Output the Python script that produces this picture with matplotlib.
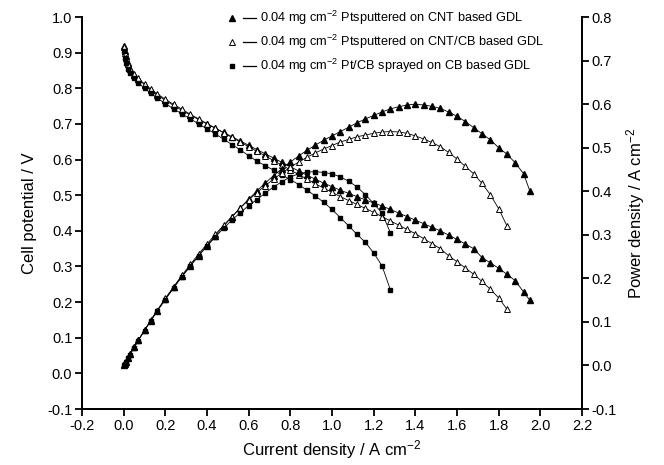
import numpy as np
import matplotlib
matplotlib.use("Agg")
import matplotlib.pyplot as plt
from matplotlib.lines import Line2D
from matplotlib.legend_handler import HandlerTuple

plt.rcParams['font.family'] = ['Liberation Sans', 'DejaVu Sans']
plt.rcParams['mathtext.fontset'] = 'custom'
plt.rcParams['mathtext.rm'] = 'Liberation Sans'
plt.rcParams['mathtext.default'] = 'regular'

# current density, A cm-2
i_cnt = [0.0, 0.005, 0.01, 0.02, 0.03, 0.05, 0.07, 0.10, 0.13, 0.16, 0.20, 0.24, 0.28, 0.32,
         0.36, 0.40, 0.44, 0.48, 0.52, 0.56, 0.60, 0.64, 0.68, 0.72, 0.76, 0.80, 0.84, 0.88,
         0.92, 0.96, 1.00, 1.04, 1.08, 1.12, 1.16, 1.20, 1.24, 1.28, 1.32, 1.36, 1.40, 1.44,
         1.48, 1.52, 1.56, 1.60, 1.64, 1.68, 1.72, 1.76, 1.80, 1.84, 1.88, 1.92, 1.95]
v_cnt = [0.92, 0.905, 0.89, 0.87, 0.855, 0.838, 0.826, 0.81, 0.795, 0.782, 0.766, 0.752, 0.738,
         0.725, 0.712, 0.70, 0.688, 0.676, 0.664, 0.652, 0.64, 0.628, 0.616, 0.604, 0.592, 0.58,
         0.568, 0.556, 0.545, 0.534, 0.524, 0.514, 0.505, 0.496, 0.487, 0.478, 0.47, 0.46, 0.45,
         0.44, 0.43, 0.42, 0.41, 0.40, 0.388, 0.376, 0.363, 0.35, 0.325, 0.31, 0.295, 0.278,
         0.26, 0.228, 0.205]
p_cnt = [0.0, 0.005, 0.009, 0.017, 0.026, 0.042, 0.058, 0.081, 0.103, 0.125, 0.153, 0.179, 0.205,
         0.229, 0.252, 0.275, 0.298, 0.32, 0.341, 0.362, 0.382, 0.401, 0.419, 0.436, 0.452, 0.467,
         0.481, 0.494, 0.506, 0.517, 0.527, 0.537, 0.547, 0.557, 0.566, 0.574, 0.582, 0.589,
         0.594, 0.598, 0.6, 0.598, 0.595, 0.59, 0.582, 0.572, 0.56, 0.546, 0.532, 0.518, 0.50,
         0.485, 0.465, 0.44, 0.40]

i_cb = i_cnt[:52]
v_cb = [0.915, 0.9, 0.885, 0.868, 0.855, 0.84, 0.828, 0.812, 0.798, 0.785, 0.769, 0.755, 0.741,
        0.727, 0.714, 0.701, 0.688, 0.675, 0.662, 0.649, 0.636, 0.623, 0.61, 0.597, 0.584, 0.571,
        0.558, 0.545, 0.532, 0.52, 0.508, 0.496, 0.485, 0.474, 0.463, 0.452, 0.44, 0.428, 0.416,
        0.404, 0.392, 0.378, 0.364, 0.35, 0.33, 0.313, 0.296, 0.278, 0.258, 0.236, 0.212, 0.18]
p_cb = [0.0, 0.004, 0.009, 0.017, 0.026, 0.042, 0.058, 0.081, 0.104, 0.126, 0.154, 0.181, 0.207,
        0.232, 0.256, 0.279, 0.301, 0.322, 0.342, 0.362, 0.38, 0.397, 0.413, 0.428, 0.442, 0.455,
        0.467, 0.478, 0.488, 0.497, 0.505, 0.513, 0.519, 0.525, 0.529, 0.533, 0.536, 0.537,
        0.536, 0.533, 0.527, 0.52, 0.512, 0.502, 0.489, 0.474, 0.457, 0.44, 0.418, 0.392, 0.36,
        0.32]

i_sp = i_cnt[:37] + [1.28]
v_sp = [0.905, 0.885, 0.87, 0.855, 0.843, 0.828, 0.815, 0.80, 0.786, 0.773, 0.757, 0.742, 0.728,
        0.714, 0.70, 0.686, 0.672, 0.657, 0.642, 0.627, 0.611, 0.595, 0.583, 0.57, 0.556, 0.544,
        0.53, 0.514, 0.498, 0.48, 0.46, 0.437, 0.414, 0.39, 0.368, 0.338, 0.302, 0.235]
p_sp = [0.0, 0.004, 0.009, 0.017, 0.025, 0.041, 0.057, 0.08, 0.102, 0.124, 0.151, 0.178, 0.204,
        0.228, 0.252, 0.274, 0.295, 0.315, 0.334, 0.351, 0.367, 0.381, 0.396, 0.41, 0.422, 0.433,
        0.44, 0.444, 0.445, 0.443, 0.44, 0.433, 0.423, 0.41, 0.392, 0.372, 0.35, 0.305]

labels = ['0.04 mg cm$^{-2}$ Ptsputtered on CNT based GDL',
          '0.04 mg cm$^{-2}$ Ptsputtered on CNT/CB based GDL',
          '0.04 mg cm$^{-2}$ Pt/CB sprayed on CB based GDL']

fig = plt.figure(figsize=(6.64, 4.65), dpi=100)
ax = fig.add_axes([0.1235, 0.1204, 0.753, 0.843])
ax2 = ax.twinx()

ms = 3.8
lw = 0.6
styles = [dict(marker='^', mfc='black', mec='black'),
          dict(marker='^', mfc='white', mec='black', mew=0.7),
          dict(marker='s', mfc='black', mec='black', markersize=3.0)]

for (x, v, p, st) in [(i_cnt, v_cnt, p_cnt, styles[0]),
                      (i_cb, v_cb, p_cb, styles[1]),
                      (i_sp, v_sp, p_sp, styles[2])]:
    kw = dict(markersize=ms)
    kw.update(st)
    ax.plot(x, v, color='black', lw=lw, **kw)
    ax2.plot(x, p, color='black', lw=lw, **kw)

ax.set_xlim(-0.2, 2.2)
ax.set_ylim(-0.1, 1.0)
ax2.set_ylim(-0.1, 0.8)
ax.set_xticks(np.arange(-0.2, 2.21, 0.2))
ax.set_yticks(np.arange(-0.1, 1.01, 0.1))
ax2.set_yticks(np.arange(-0.1, 0.81, 0.1))
ax.xaxis.set_major_formatter(plt.FormatStrFormatter('%.1f'))
ax.yaxis.set_major_formatter(plt.FormatStrFormatter('%.1f'))
ax2.yaxis.set_major_formatter(plt.FormatStrFormatter('%.1f'))

for a in (ax, ax2):
    a.spines['top'].set_visible(False)
    for s in a.spines.values():
        s.set_linewidth(1.3)
    a.tick_params(direction='out', length=5, width=1.3, labelsize=10.5, pad=2)

ax.set_xlabel('Current density / A cm$^{-2}$', fontsize=12, labelpad=4)
ax.set_ylabel('Cell potential / V', fontsize=12, labelpad=7)
ax2.set_ylabel('Power density / A cm$^{-2}$', fontsize=12, labelpad=5)

handles = []
for st in styles:
    kw = dict(markersize=ms)
    kw.update(st)
    m = Line2D([], [], linestyle='none', **kw)
    l = Line2D([], [], color='black', lw=0.9)
    handles.append((m, l))

fig.legend(handles, labels, handler_map={tuple: HandlerTuple(ndivide=None, pad=0.3)},
           loc='upper left', bbox_to_anchor=(0.322, 1.005), frameon=False,
           fontsize=9.2, handlelength=2.4, handletextpad=0.3, labelspacing=0.45)

fig.savefig('out.png', dpi=100)
